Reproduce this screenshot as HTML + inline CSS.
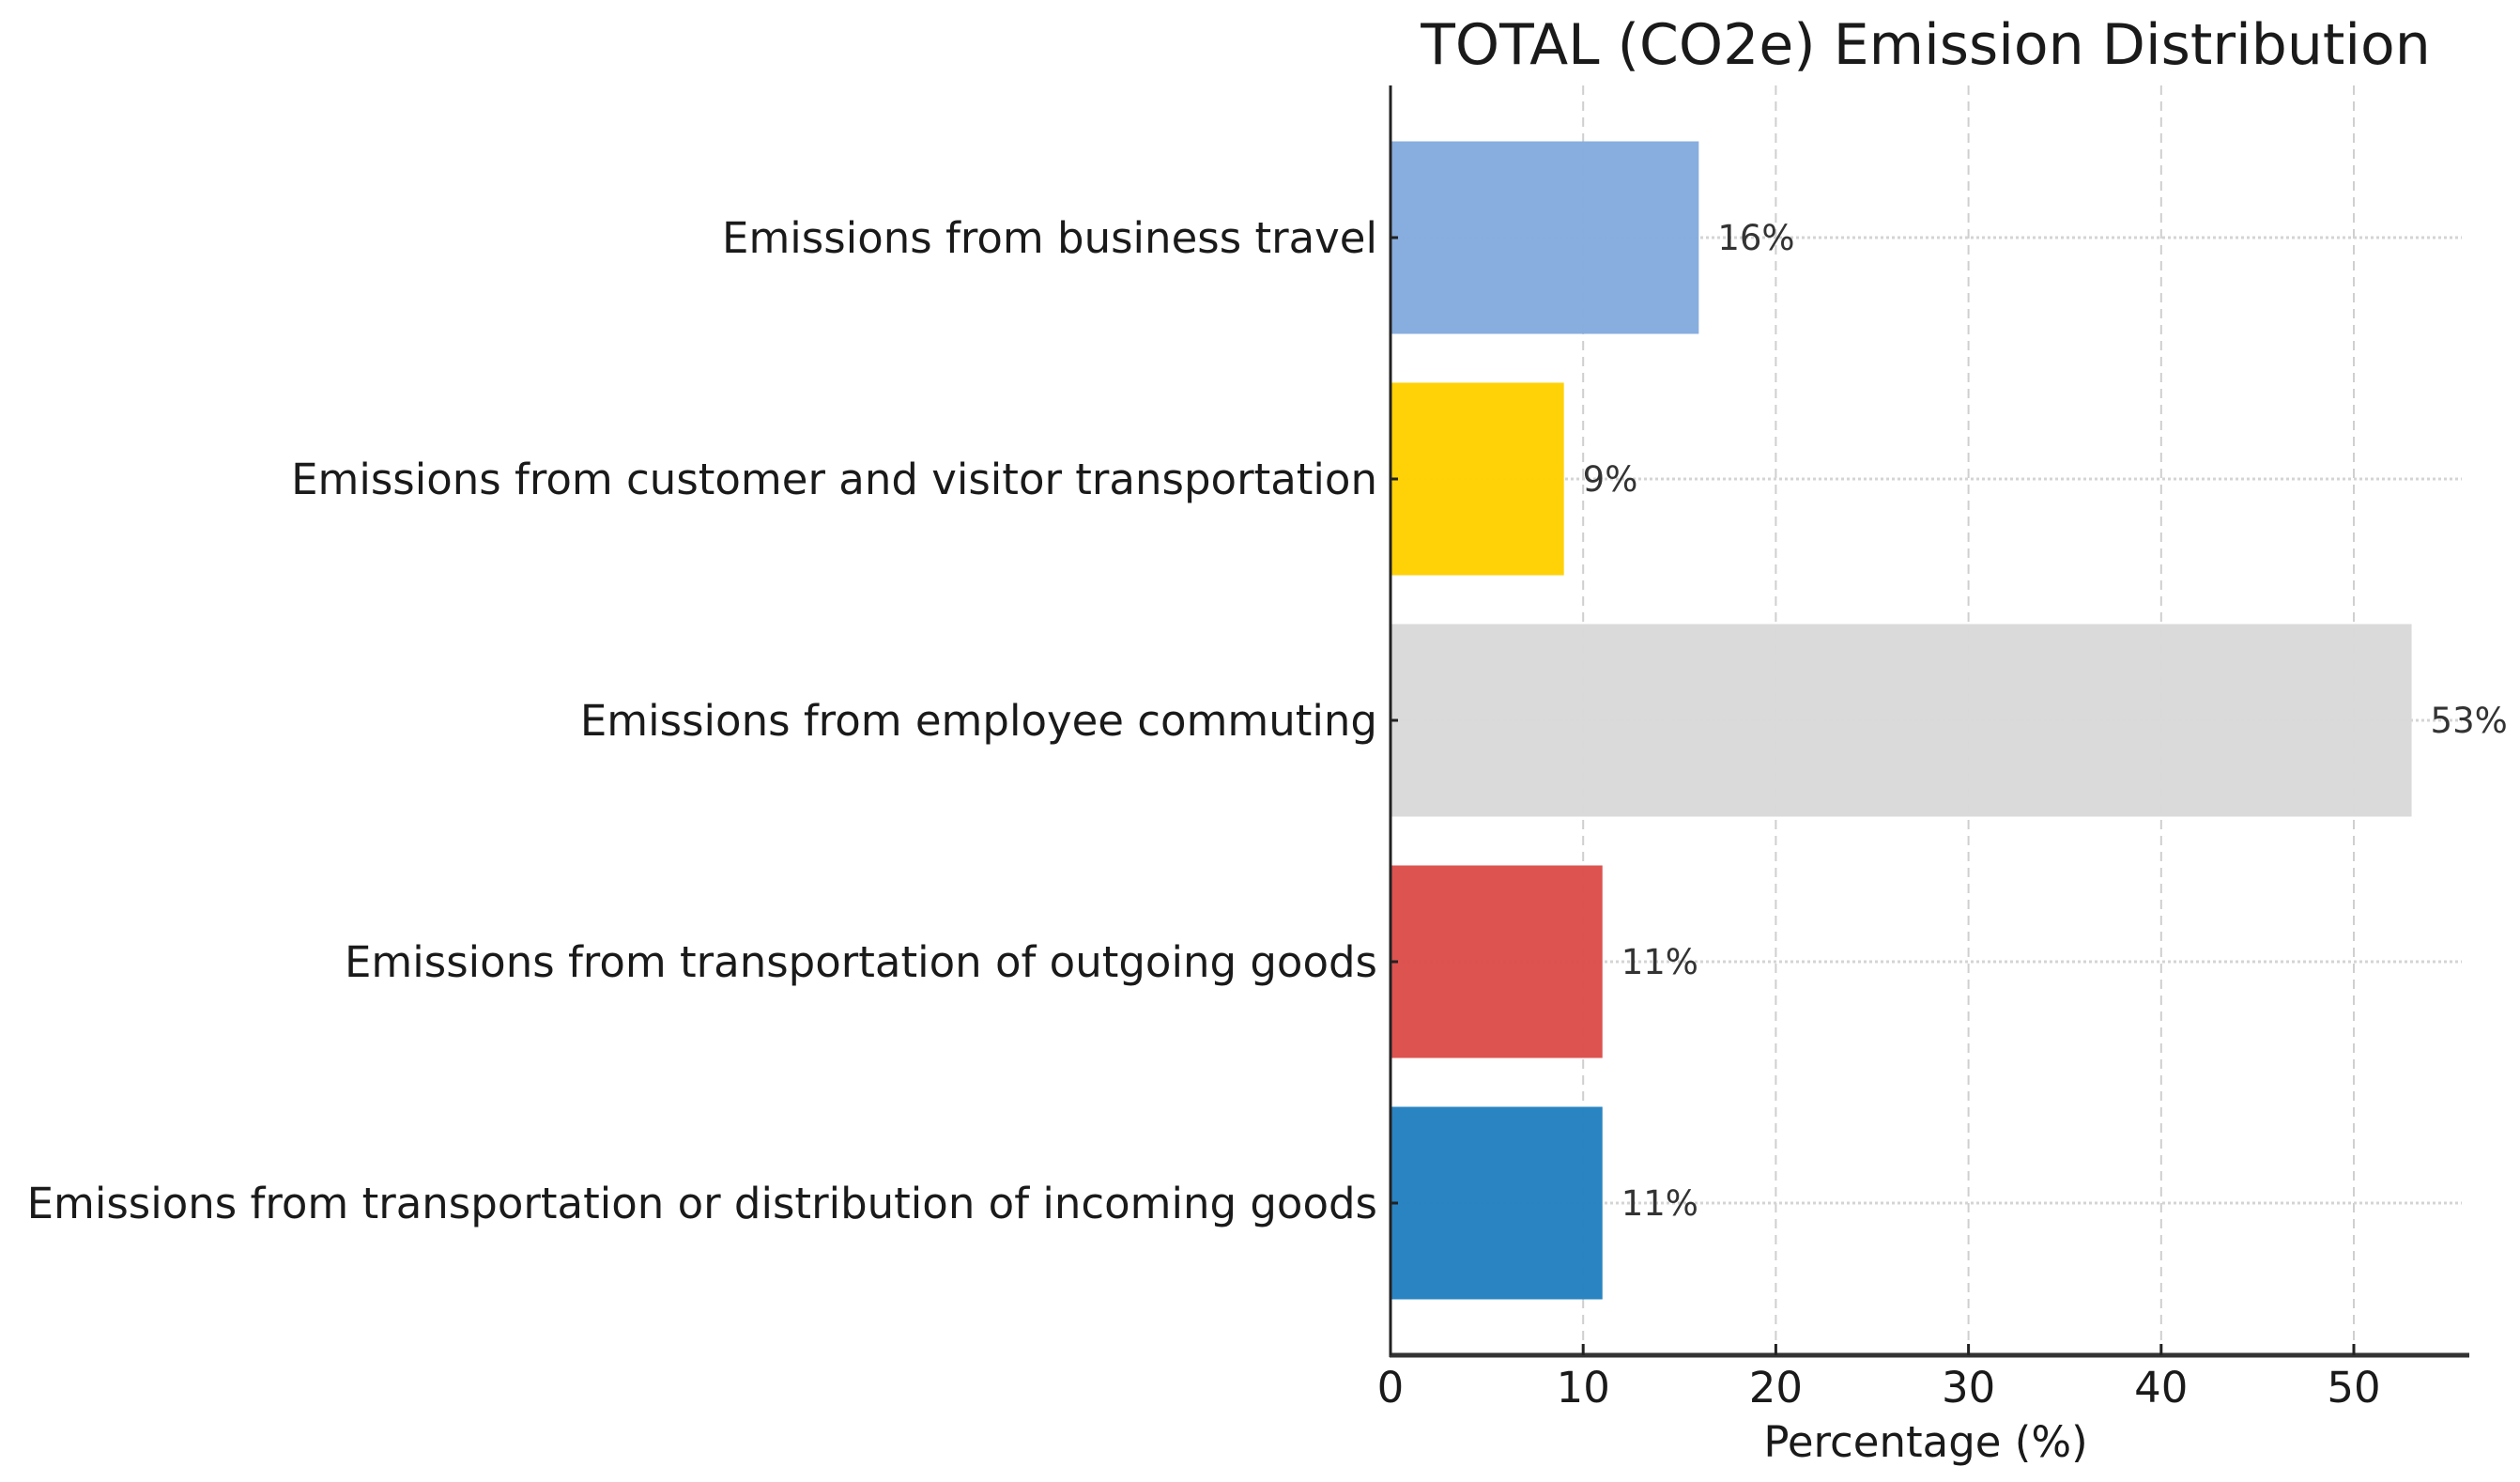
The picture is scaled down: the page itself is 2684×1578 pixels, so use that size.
<!DOCTYPE html>
<html><head><meta charset="utf-8"><style>
html,body{margin:0;padding:0;background:#fff;}
svg{display:block;font-family:"DejaVu Sans","Liberation Sans",sans-serif;}
</style></head><body>
<svg id="chart" width="2684" height="1578" viewBox="0 0 2684 1578"></svg>
<script>
const categories = ["Emissions from business travel","Emissions from customer and visitor transportation","Emissions from employee commuting","Emissions from transportation of outgoing goods","Emissions from transportation or distribution of incoming goods"];
const values = [16, 9, 53, 11, 11];
const valueLabels = ["16%","9%","53%","11%","11%"];
const colors = ["#84abde","#ffd100","#d9d9d9","#dc4d4a","#2380c0"];
const xTicks = [0,10,20,30,40,50];

const NS="http://www.w3.org/2000/svg";
const svg=document.getElementById('chart');
const X0=1481, PX=20.52, XMAX=2630, TOP=91, BOT=1443, C0=253, STEP=257, BH=205;
const xs=v=>X0+v*PX;
const ys=i=>C0+i*STEP;
function mk(tag,attrs,parent){const e=document.createElementNS(NS,tag);for(const k in attrs)e.setAttribute(k,attrs[k]);(parent||svg).appendChild(e);return e;}

xTicks.forEach(t=>{ if(t===0) return;
  const g=mk('line',{x1:xs(t),x2:xs(t),y1:TOP,y2:BOT,stroke:'#cfcfcf','stroke-width':2,'stroke-dasharray':'10,7'});
  
  
});
categories.forEach((c,i)=>{
  const g=mk('line',{x1:X0,x2:2622,y1:ys(i),y2:ys(i),stroke:'#d4d4d4','stroke-width':3,'stroke-dasharray':'3,3'});
  
  
});
categories.forEach((c,i)=>{
  const r=mk('rect',{x:X0,y:ys(i)-BH/2,width:xs(values[i])-X0,height:BH,fill:colors[i],'fill-opacity':0.97});
  
  
  const t=mk('text',{x:xs(values[i])+20,y:ys(i)+13,'font-size':37,fill:'#333'});
  t.textContent=valueLabels[i];
  
  
  const l=mk('text',{x:1467,y:ys(i)+16,'font-size':45,fill:'#1a1a1a','text-anchor':'end'});
  l.textContent=c;
  
  
  const tk=mk('line',{x1:X0,x2:X0+8,y1:ys(i),y2:ys(i),stroke:'#222','stroke-width':3});
  
  
});
let s=mk('line',{x1:X0,x2:X0,y1:TOP,y2:BOT+2,stroke:'#222','stroke-width':3});


s=mk('line',{x1:X0-1,x2:XMAX,y1:BOT,y2:BOT,stroke:'#333','stroke-width':5});


xTicks.forEach(t=>{
  const tk=mk('line',{x1:xs(t),x2:xs(t),y1:BOT,y2:BOT-12,stroke:'#222','stroke-width':3});
  
  
  const l=mk('text',{x:xs(t),y:1493,'font-size':45,fill:'#1a1a1a','text-anchor':'middle'});
  l.textContent=String(t);
  
  
});
let tt=mk('text',{x:2051,y:1551,'font-size':45,fill:'#1a1a1a','text-anchor':'middle'});
tt.textContent='Percentage (%)';


tt=mk('text',{x:2051,y:68,'font-size':60,fill:'#1a1a1a','text-anchor':'middle'});
tt.textContent='TOTAL (CO2e) Emission Distribution';


</script>
</body></html>
